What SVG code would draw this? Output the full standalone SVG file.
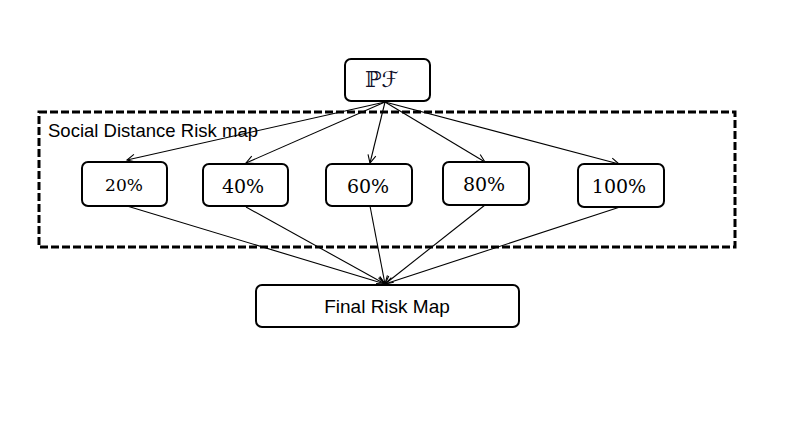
<svg xmlns="http://www.w3.org/2000/svg" width="802" height="433" viewBox="0 0 802 433">
<defs>
<style>
.box{fill:#fff;stroke:#000;stroke-width:2}
.pct{font-family:"DejaVu Serif","Liberation Serif",serif;font-size:19px;fill:#000;text-anchor:middle}
.sans{font-family:"Liberation Sans","Open Sans",sans-serif;fill:#000}
.edge{stroke:#000;stroke-width:1.1;fill:none;marker-end:url(#arr)}
</style>
<marker id="arr" markerUnits="userSpaceOnUse" markerWidth="12" markerHeight="12" refX="9" refY="5" orient="auto">
<path d="M1,1 L9,5 L1,9" fill="none" stroke="#000" stroke-width="1.1"/>
</marker>
</defs>
<rect width="802" height="433" fill="#fff"/>
<g id="frame">
<rect x="39" y="112" width="696" height="135" fill="none" stroke="#000" stroke-width="3" stroke-dasharray="8,3"/>
<text class="sans" x="48" y="137" font-size="19" textLength="210" lengthAdjust="spacingAndGlyphs">Social Distance Risk map</text>
</g>
<g id="connectors">
<line class="edge" x1="385" y1="102" x2="127" y2="160"/>
<line class="edge" x1="385" y1="102" x2="246" y2="163"/>
<line class="edge" x1="385" y1="102" x2="370" y2="163"/>
<line class="edge" x1="385" y1="102" x2="485" y2="162"/>
<line class="edge" x1="385" y1="102" x2="619" y2="164"/>
<line class="edge" x1="127" y1="206" x2="385" y2="284"/>
<line class="edge" x1="246" y1="207" x2="385" y2="284"/>
<line class="edge" x1="370" y1="206" x2="385" y2="284"/>
<line class="edge" x1="485" y1="205" x2="385" y2="284"/>
<line class="edge" x1="620" y1="207" x2="385" y2="284"/>
</g>
<g id="pf">
<rect class="box" x="345" y="59" width="85" height="42" rx="6"/>
<text x="382" y="87" font-family="DejaVu Serif,DejaVu Sans,serif" font-size="22" fill="#10102a" text-anchor="middle">ℙℱ</text>
</g>
<g id="n20">
<rect class="box" x="82" y="162" width="85" height="44" rx="6"/>
<text class="pct" x="124" y="191" style="font-size:17px">20%</text>
</g>
<g id="n40">
<rect class="box" x="203" y="164" width="85" height="42" rx="6"/>
<text class="pct" x="243" y="193">40%</text>
</g>
<g id="n60">
<rect class="box" x="326" y="164" width="86" height="42" rx="6"/>
<text class="pct" x="368" y="193">60%</text>
</g>
<g id="n80">
<rect class="box" x="443" y="162" width="86" height="43" rx="6"/>
<text class="pct" x="484" y="191">80%</text>
</g>
<g id="n100">
<rect class="box" x="578" y="164" width="86" height="43" rx="6"/>
<text class="pct" x="619" y="193">100%</text>
</g>
<g id="final">
<rect class="box" x="256" y="285" width="263" height="42" rx="6"/>
<text class="sans" x="387" y="313" font-size="19" text-anchor="middle">Final Risk Map</text>
</g>
</svg>
